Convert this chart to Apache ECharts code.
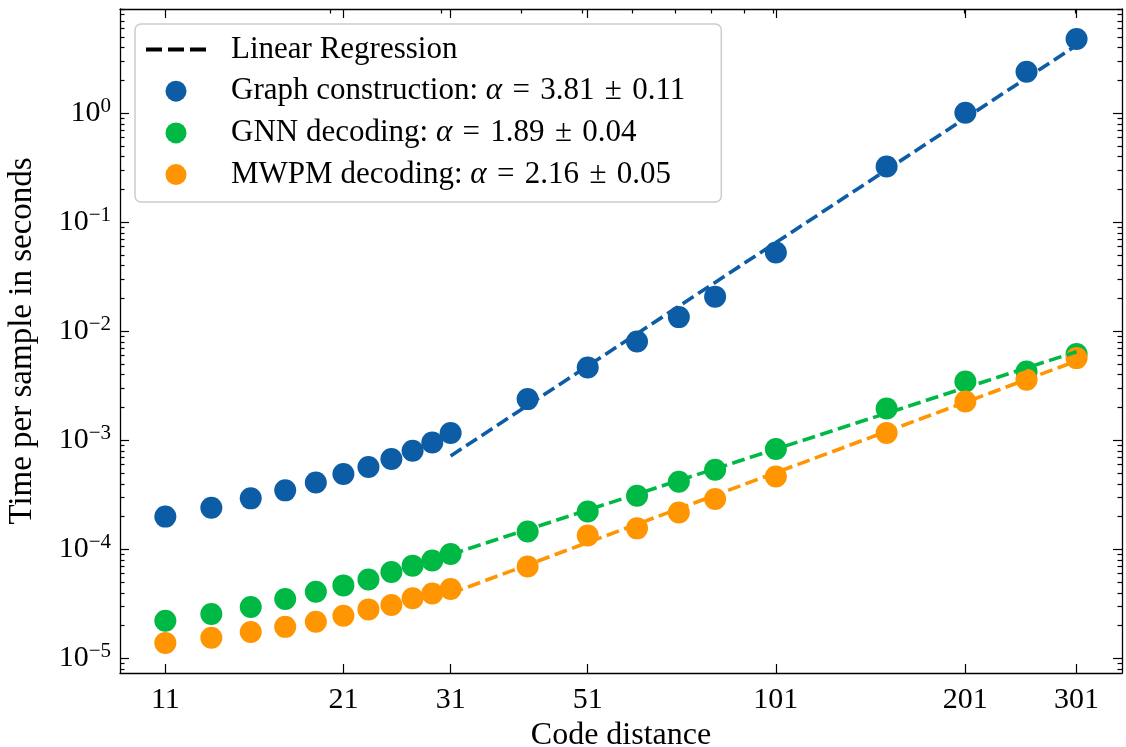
<!DOCTYPE html>
<html>
<head>
<meta charset="utf-8">
<title>Time per sample vs code distance</title>
<script src="https://cdn.jsdelivr.net/npm/echarts@6/dist/echarts.min.js"></script>
<style>
  html, body { margin: 0; padding: 0; background: #fff; }
  #chart { width: 1126px; height: 747px; }
</style>
</head>
<body>
<div id="chart"></div>
<script>
// code distances
const distances = [11, 13, 15, 17, 19, 21, 23, 25, 27, 29, 31, 41, 51, 61, 71, 81, 101, 151, 201, 251, 301];

// time per sample in seconds
const graphTimes = [2.00e-4, 2.41e-4, 2.94e-4, 3.48e-4, 4.11e-4, 4.91e-4, 5.69e-4, 6.74e-4, 8.03e-4, 9.57e-4, 1.17e-3,
  2.39e-3, 4.66e-3, 8.06e-3, 1.35e-2, 2.08e-2, 5.28e-2, 0.324, 1.01, 2.40, 4.80];
const gnnTimes = [2.22e-5, 2.56e-5, 2.97e-5, 3.51e-5, 4.09e-5, 4.68e-5, 5.31e-5, 6.21e-5, 7.10e-5, 7.93e-5, 9.08e-5,
  1.46e-4, 2.23e-4, 3.10e-4, 4.17e-4, 5.38e-4, 8.32e-4, 1.96e-3, 3.47e-3, 4.28e-3, 6.18e-3];
const mwpmTimes = [1.39e-5, 1.55e-5, 1.75e-5, 1.95e-5, 2.17e-5, 2.47e-5, 2.82e-5, 3.09e-5, 3.56e-5, 3.95e-5, 4.34e-5,
  6.98e-5, 1.34e-4, 1.56e-4, 2.18e-4, 2.90e-4, 4.67e-4, 1.17e-3, 2.27e-3, 3.59e-3, 5.68e-3];

// regression lines, end points at d = 31 and d = 301
const fitDistances = [31, 301];
const graphFit = [7.2e-4, 4.2];
const gnnFit = [9.0e-5, 6.5e-3];
const mwpmFit = [3.95e-5, 5.35e-3];

const seriesNames = ['Graph construction', 'GNN decoding', 'MWPM decoding'];
const alphaTexts = ['3.81', '1.89', '2.16'];
const alphaErrors = ['0.11', '0.04', '0.05'];
const colors = ['#0C5DA5', '#00B945', '#FF9500'];

// ticks
const xTicks = [11, 21, 31, 51, 101, 201, 301];
const xMinorTop = [20, 30, 40, 50, 60, 70, 80, 90, 100, 200, 300];
const yTicks = [1e-5, 1e-4, 1e-3, 1e-2, 1e-1, 1];
const yMinor = [];
for (let e = -6; e <= 0; e++) {
  for (let m = 2; m <= 9; m++) yMinor.push(m * Math.pow(10, e));
}

const font = 'Liberation Serif';
const xMin = 9.33, xMax = 355;
const yMin = 7.36e-6, yMax = 9.03;

const chart = echarts.init(document.getElementById('chart'));

function supLabel(v) {
  const e = Math.round(Math.log10(v));
  return '{b|10}{s|' + (e < 0 ? '\u2212' + (-e) : e) + '}';
}

const line = { show: true, onZero: false, lineStyle: { color: '#000', width: 1.3 } };
const noLine = { show: false };

function xAx(pos, ticks, len, withLabels) {
  return {
    type: 'log', min: xMin, max: xMax, position: pos,
    axisLine: line,
    axisTick: { show: true, inside: true, length: len, customValues: ticks, lineStyle: { color: '#000', width: 1.2 } },
    axisLabel: withLabels ? {
      show: true, customValues: ticks, margin: 12, fontFamily: font, fontSize: 30, color: '#000',
      formatter: v => String(Math.round(v))
    } : { show: false },
    splitLine: { show: false }, minorTick: { show: false }, minorSplitLine: { show: false }
  };
}

function yAx(pos, ticks, len, withLabels) {
  return {
    type: 'log', min: yMin, max: yMax, position: pos,
    axisLine: line,
    axisTick: { show: true, inside: true, length: len, customValues: ticks, lineStyle: { color: '#000', width: 1.2 } },
    axisLabel: withLabels ? {
      show: true, customValues: ticks, margin: 9, color: '#000',
      formatter: supLabel,
      rich: {
        b: { fontFamily: font, fontSize: 30, lineHeight: 34, color: '#000' },
        s: { fontFamily: font, fontSize: 21, lineHeight: 18, verticalAlign: 'top', color: '#000' }
      }
    } : { show: false },
    splitLine: { show: false }, minorTick: { show: false }, minorSplitLine: { show: false }
  };
}

const xBottom = xAx('bottom', xTicks, 9, true);
xBottom.name = 'Code distance';
xBottom.nameLocation = 'middle';
xBottom.nameGap = 47;
xBottom.nameTextStyle = { fontFamily: font, fontSize: 32, color: '#000' };

const yLeft = yAx('left', yTicks, 9, true);
yLeft.name = 'Time per sample in seconds';
yLeft.nameLocation = 'middle';
yLeft.nameGap = 81;
yLeft.nameTextStyle = { fontFamily: font, fontSize: 33, color: '#000' };

const series = [{
  name: 'Linear Regression', type: 'line', data: [], color: '#000', symbol: 'none'
}];
const pointSets = [graphTimes, gnnTimes, mwpmTimes];
const fitSets = [graphFit, gnnFit, mwpmFit];
seriesNames.forEach((name, i) => {
  series.push({
    name: name, type: 'scatter', symbol: 'circle', symbolSize: 22,
    itemStyle: { color: colors[i], opacity: 1 },
    data: distances.map((d, j) => [d, pointSets[i][j]])
  });
  series.push({
    name: name + ' fit', type: 'line', symbol: 'none', silent: true,
    lineStyle: { color: colors[i], width: 3.6, type: [13, 5.5] },
    data: fitDistances.map((d, j) => [d, fitSets[i][j]])
  });
});

const sp = '\u2004';

chart.setOption({
  animation: false,
  backgroundColor: '#fff',
  grid: { left: 120, right: 4, top: 9, bottom: 74, outerBoundsMode: 'none' },
  xAxis: [
    xBottom,
    xAx('top', xTicks, 9, false),
    Object.assign(xAx('top', xMinorTop, 4.5, false), { axisLine: noLine })
  ],
  yAxis: [
    yLeft,
    Object.assign(yAx('left', yMinor, 4.5, false), { axisLine: noLine }),
    yAx('right', yTicks, 9, false),
    Object.assign(yAx('right', yMinor, 4.5, false), { axisLine: noLine })
  ],
  legend: {
    orient: 'vertical', left: 135, top: 24,
    data: [
      { name: 'Linear Regression', icon: 'path://M0,0h16v4h-16z M22,0h16v4h-16z M44,0h16v4h-16z' },
      { name: seriesNames[0], icon: 'circle' },
      { name: seriesNames[1], icon: 'circle' },
      { name: seriesNames[2], icon: 'circle' }
    ],
    itemWidth: 60, itemHeight: 21, itemGap: 10.7,
    padding: [10, 36, 12, 11],
    backgroundColor: 'rgba(255,255,255,0.8)',
    borderColor: '#cccccc', borderWidth: 1.5, borderRadius: 6,
    selectedMode: false,
    textStyle: {
      fontFamily: font, fontSize: 31, color: '#000', padding: [0, 0, 0, 20],
      rich: {
        t: { fontFamily: font, fontSize: 31, color: '#000' },
        m: { fontFamily: font, fontSize: 31, fontStyle: 'italic', color: '#000' }
      }
    },
    formatter: name => {
      const i = seriesNames.indexOf(name);
      if (i < 0) return '{t|' + name + '}';
      return '{t|' + name + ': }{m|\u03b1}{t|' + sp + '=' + sp + alphaTexts[i] + sp + '\u00b1' + sp + alphaErrors[i] + '}';
    }
  },
  series: series
});
</script>
</body>
</html>
